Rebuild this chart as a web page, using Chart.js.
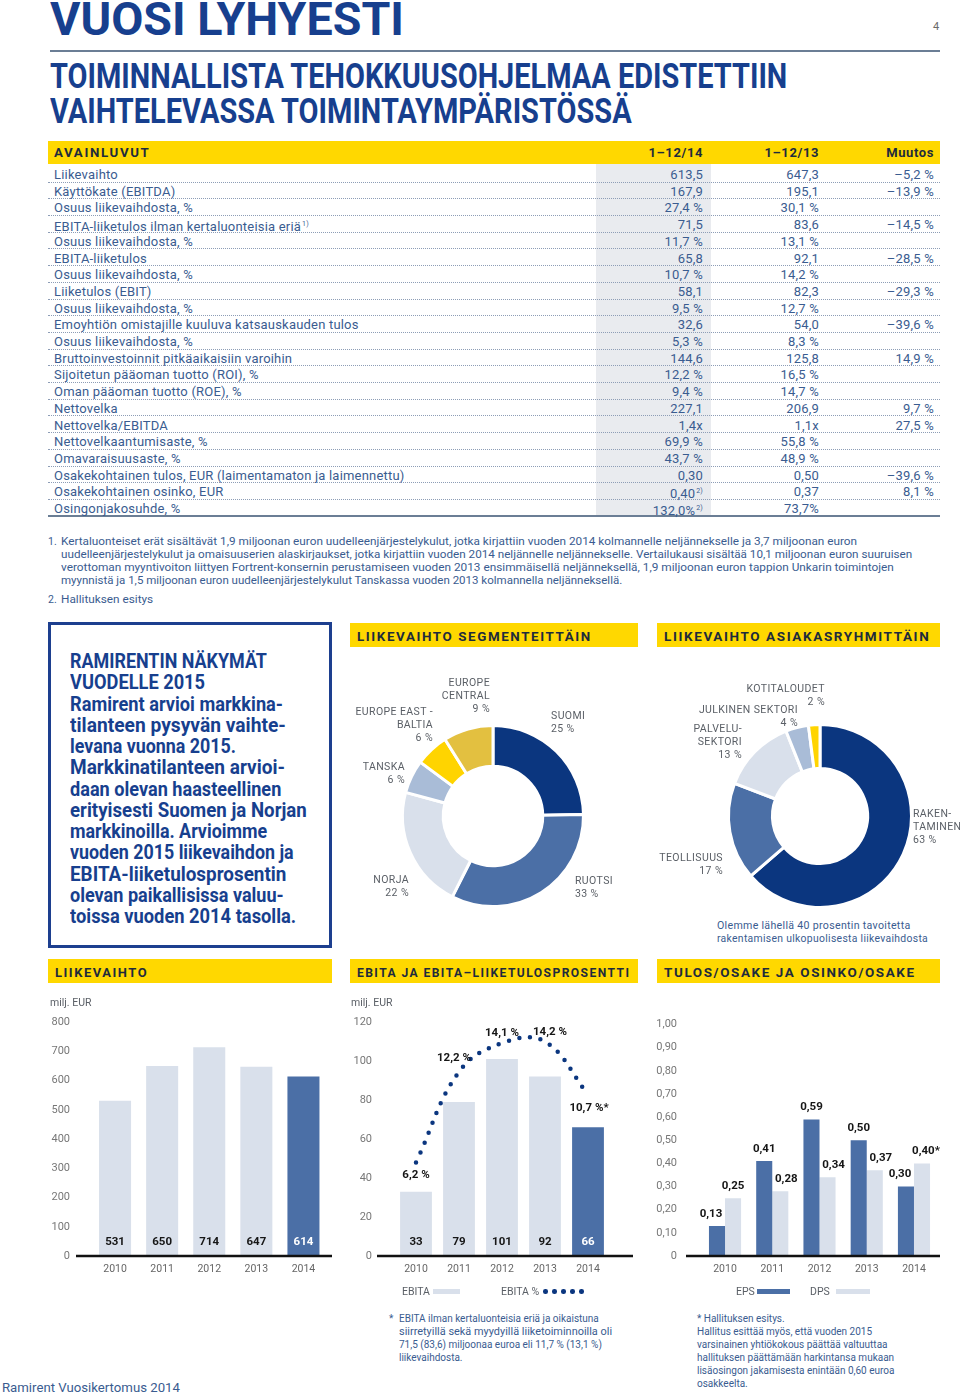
<!DOCTYPE html>
<html lang="fi">
<head>
<meta charset="utf-8">
<title>Vuosi lyhyesti</title>
<script src="https://cdn.jsdelivr.net/npm/chart.js@4.4.1/dist/chart.umd.min.js"></script>
<style>
  html, body { margin: 0; padding: 0; background: #fff; }
  body { position: relative; width: 960px; height: 1394px; overflow: hidden;
         font-family: Roboto, "Open Sans", sans-serif; color: #3a5c90; }
  .t { position: absolute; white-space: nowrap; transform-origin: 0 50%; }
  .box { position: absolute; }
  canvas { position: absolute; }
  .row { position: absolute; left: 48px; width: 892px; height: 16.7px; box-sizing: border-box;
         border-bottom: 1px dotted #8d9db6; }
  .row.last { border-bottom: 2px solid #6b7e95; }
  .row span { position: absolute; top: 1px; line-height: 15px; font-size: 13px; letter-spacing: 0.2px; white-space: nowrap; }
  sup { font-size: 7px; vertical-align: 5px; margin-left: 1px; }
</style>
</head>
<body>
<canvas id="segChart" width="200" height="200" style="left:393px; top:716px"></canvas>
<canvas id="custChart" width="202" height="202" style="left:719px; top:715px"></canvas>
<canvas id="revChart" width="300" height="300" style="left:40px; top:990px"></canvas>
<canvas id="ebitaChart" width="300" height="300" style="left:340px; top:990px"></canvas>
<canvas id="epsChart" width="310" height="300" style="left:650px; top:990px"></canvas>
<script>
// Värit
const NAVY = "#0b367f";
const MID = "#4b6fa6";
const LIGHT = "#d9e0eb";
const LIGHTBLUE = "#a9bcd7";
const YELLOW = "#ffd400";
const GOLD = "#e3c040";
const TITLE = "#173f8e";
const GRAY = "#5a5f66";

// Avainluvut
const rowLabels = [
  "Liikevaihto", "Käyttökate (EBITDA)", "Osuus liikevaihdosta, %",
  "EBITA-liiketulos ilman kertaluonteisia eriä", "Osuus liikevaihdosta, %",
  "EBITA-liiketulos", "Osuus liikevaihdosta, %", "Liiketulos (EBIT)",
  "Osuus liikevaihdosta, %", "Emoyhtiön omistajille kuuluva katsauskauden tulos",
  "Osuus liikevaihdosta, %", "Bruttoinvestoinnit pitkäaikaisiin varoihin",
  "Sijoitetun pääoman tuotto (ROI), %", "Oman pääoman tuotto (ROE), %",
  "Nettovelka", "Nettovelka/EBITDA", "Nettovelkaantumisaste, %",
  "Omavaraisuusaste, %", "Osakekohtainen tulos, EUR (laimentamaton ja laimennettu)",
  "Osakekohtainen osinko, EUR", "Osingonjakosuhde, %"
];
const values14 = ["613,5", "167,9", "27,4 %", "71,5", "11,7 %", "65,8", "10,7 %", "58,1",
  "9,5 %", "32,6", "5,3 %", "144,6", "12,2 %", "9,4 %", "227,1", "1,4x", "69,9 %",
  "43,7 %", "0,30", "0,40", "132,0%"];
const values13 = ["647,3", "195,1", "30,1 %", "83,6", "13,1 %", "92,1", "14,2 %", "82,3",
  "12,7 %", "54,0", "8,3 %", "125,8", "16,5 %", "14,7 %", "206,9", "1,1x", "55,8 %",
  "48,9 %", "0,50", "0,37", "73,7%"];
const changes = ["–5,2 %", "–13,9 %", "", "–14,5 %", "", "–28,5 %", "", "–29,3 %", "",
  "–39,6 %", "", "14,9 %", "", "", "9,7 %", "27,5 %", "", "", "–39,6 %", "8,1 %", ""];
const labelNotes = { 3: "1)" };
const value14Notes = { 19: "2)", 20: "2)" };

// Kaavioiden data
const years = ["2010", "2011", "2012", "2013", "2014"];
const revenue = [531, 650, 714, 647, 614];
const ebita = [33, 79, 101, 92, 66];
const ebitaPct = [6.2, 12.2, 14.1, 14.2, 10.7];
const ebitaPctNotes = ["", "", "", "", "*"];
const eps = [0.13, 0.41, 0.59, 0.50, 0.30];
const dps = [0.25, 0.28, 0.34, 0.37, 0.40];
const dpsNotes = ["", "", "", "", "*"];

const segmentNames = ["SUOMI", "RUOTSI", "NORJA", "TANSKA", "EUROPE EAST -\nBALTIA", "EUROPE\nCENTRAL"];
const segmentShares = [25, 33, 22, 6, 6, 9];
const customerNames = ["RAKEN-\nTAMINEN", "TEOLLISUUS", "PALVELU-\nSEKTORI", "JULKINEN SEKTORI", "KOTITALOUDET"];
const customerShares = [63, 17, 13, 4, 2];

// Tekstien sijainnit (tyyli, ei dataa)
const segColors = [NAVY, MID, LIGHT, LIGHTBLUE, YELLOW, GOLD];
const segLabelPos = [
  { x: 551, y: 715, a: "left" }, { x: 575, y: 880, a: "left" },
  { x: 409, y: 879, a: "right" }, { x: 405, y: 766, a: "right" },
  { x: 433, y: 711, a: "right" }, { x: 490, y: 682, a: "right" }
];
const custColors = [NAVY, MID, LIGHT, LIGHTBLUE, YELLOW];
const custLabelPos = [
  { x: 913, y: 813, a: "left" }, { x: 723, y: 857, a: "right" },
  { x: 742, y: 728, a: "right" }, { x: 798, y: 709, a: "right" },
  { x: 825, y: 688, a: "right" }
];
const pctLabelOffsets = [[0, 13], [-5, -14], [0, -10], [5, -10], [1, 14]];
const epsLabelDx = [-6, 0, 0, 0, -6];
const dpsLabelDx = [0, 6, 6, 6, 4];

const fi = (v, d) => v.toFixed(d).replace(".", ",");

// Apufunktiot
function addText(html, x, yc, o = {}) {
  const el = document.createElement("div");
  el.className = "t";
  const size = o.size || 12;
  const lh = o.lh || Math.round(size * 1.25);
  el.style.fontSize = size + "px";
  el.style.lineHeight = lh + "px";
  el.style.top = (yc - lh / 2) + "px";
  if (o.weight) el.style.fontWeight = o.weight;
  if (o.color) el.style.color = o.color;
  if (o.ls) el.style.letterSpacing = o.ls + "px";
  if (o.align === "right") {
    el.style.right = (960 - x) + "px";
    el.style.textAlign = "right";
    el.style.transformOrigin = "100% 50%";
  } else {
    el.style.left = x + "px";
  }
  if (o.w) el.dataset.w = o.w;
  el.innerHTML = html;
  document.body.appendChild(el);
  return el;
}

function addBox(x, y, w, h, css) {
  const el = document.createElement("div");
  el.className = "box";
  el.style.left = x + "px";
  el.style.top = y + "px";
  el.style.width = w + "px";
  el.style.height = h + "px";
  Object.assign(el.style, css);
  document.body.appendChild(el);
  return el;
}

function sectionBar(x, y, w, text, tw) {
  addBox(x, y, w, 24, { background: "#ffd800" });
  addText(text, x + 7, y + 12.5, { size: 13.5, lh: 16, weight: 700, ls: 1.6, color: "#1e2b3c", w: tw });
}

// Otsikot
addText("VUOSI LYHYESTI", 50, 19, { size: 46.5, lh: 48, weight: 700, color: TITLE, w: 354 });
addText("4", 933, 27, { size: 11, color: "#6a6a6a" });
addBox(50, 50, 890, 2, { background: "#6b7e95" });
addText("TOIMINNALLISTA TEHOKKUUSOHJELMAA EDISTETTIIN", 50, 77, { size: 35, lh: 36, weight: 700, color: TITLE, w: 737 });
addText("VAIHTELEVASSA TOIMINTAYMPÄRISTÖSSÄ", 50, 112, { size: 35, lh: 36, weight: 700, color: TITLE, w: 582 });

// Taulukko
addBox(48, 141, 892, 23, { background: "#ffd800" });
addText("AVAINLUVUT", 54, 153, { size: 13, weight: 700, ls: 1.6, color: "#1e2b3c", w: 96 });
addText("1–12/14", 703, 153, { size: 13, weight: 700, ls: 0.6, color: "#1e2b3c", align: "right" });
addText("1–12/13", 819, 153, { size: 13, weight: 700, ls: 0.6, color: "#1e2b3c", align: "right" });
addText("Muutos", 934, 153, { size: 13, weight: 700, ls: 0.6, color: "#1e2b3c", align: "right" });
addBox(596, 164, 115, 353, { background: "#e9ebef" });

rowLabels.forEach((label, i) => {
  const row = document.createElement("div");
  row.className = "row" + (i === rowLabels.length - 1 ? " last" : "");
  row.style.top = (166 + i * 16.7) + "px";
  const note = labelNotes[i] ? "<sup>" + labelNotes[i] + "</sup>" : "";
  const note14 = value14Notes[i] ? "<sup>" + value14Notes[i] + "</sup>" : "";
  row.innerHTML =
    '<span style="left:6px">' + label + note + "</span>" +
    '<span style="right:237px">' + values14[i] + note14 + "</span>" +
    '<span style="right:121px">' + values13[i] + "</span>" +
    '<span style="right:6px">' + changes[i] + "</span>";
  document.body.appendChild(row);
});

// Alaviitteet
const fn = { size: 10.5, lh: 13 };
addText("1.", 48, 541, fn);
addText("Kertaluonteiset erät sisältävät 1,9 miljoonan euron uudelleenjärjestelykulut, jotka kirjattiin vuoden 2014 kolmannelle neljännekselle ja 3,7 miljoonan euron", 61, 541, { ...fn, w: 796 });
addText("uudelleenjärjestelykulut ja omaisuuserien alaskirjaukset, jotka kirjattiin vuoden 2014 neljännelle neljännekselle. Vertailukausi sisältää 10,1 miljoonan euron suuruisen", 61, 554, { ...fn, w: 851 });
addText("verottoman myyntivoiton liittyen Fortrent-konsernin perustamiseen vuoden 2013 ensimmäisellä neljänneksellä, 1,9 miljoonan euron tappion Unkarin toimintojen", 61, 567, { ...fn, w: 833 });
addText("myynnistä ja 1,5 miljoonan euron uudelleenjärjestelykulut Tanskassa vuoden 2013 kolmannella neljänneksellä.", 61, 580, { ...fn, w: 561 });
addText("2.", 48, 599, fn);
addText("Hallituksen esitys", 61, 599, { ...fn, w: 92 });

// Näkymät-laatikko
addBox(48, 622, 284, 326, { border: "3px solid #1d3f8f", boxSizing: "border-box" });
const outlook = [
  "RAMIRENTIN NÄKYMÄT", "VUODELLE 2015", "Ramirent arvioi markkina-",
  "tilanteen pysyvän vaihte-", "levana vuonna 2015.", "Markkinatilanteen arvioi-",
  "daan olevan haasteellinen", "erityisesti Suomen ja Norjan", "markkinoilla. Arvioimme",
  "vuoden 2015 liikevaihdon ja", "EBITA-liiketulosprosentin", "olevan paikallisissa valuu-",
  "toissa vuoden 2014 tasolla."
];
const outlookW = [197, 135, 213, 216, 166, 215, 211, 237, 197, 224, 216, 214, 226];
outlook.forEach((line, i) => {
  addText(line, 70, 661 + i * 21.25, { size: 20, lh: 22, weight: 700, color: TITLE, w: outlookW[i] });
});

// Osioiden otsikot
sectionBar(350, 623, 288, "LIIKEVAIHTO SEGMENTEITTÄIN", 235);
sectionBar(657, 623, 283, "LIIKEVAIHTO ASIAKASRYHMITTÄIN", 266);
sectionBar(48, 959, 284, "LIIKEVAIHTO", 93);
sectionBar(350, 959, 288, "EBITA JA EBITA–LIIKETULOSPROSENTTI", 273);
sectionBar(657, 959, 283, "TULOS/OSAKE JA OSINKO/OSAKE", 252);

// Piirakoiden tekstit
function ringLabels(names, shares, pos) {
  names.forEach((name, i) => {
    const p = pos[i];
    addText(name.split("\n").join("<br>") + "<br>" + shares[i] + " %", p.x, p.y,
      { size: 10.5, lh: 13, ls: 0.4, color: GRAY, align: p.a });
  });
}
ringLabels(segmentNames, segmentShares, segLabelPos);
ringLabels(customerNames, customerShares, custLabelPos);
addText("Olemme lähellä 40 prosentin tavoitetta", 717, 925, { size: 10.5, lh: 13, ls: 0.3, w: 194 });
addText("rakentamisen ulkopuolisesta liikevaihdosta", 717, 938, { size: 10.5, lh: 13, ls: 0.3, w: 211 });

// Pylväskaavioiden tekstit
addText("milj. EUR", 50, 1002, { size: 10.5, color: GRAY });
addText("milj. EUR", 351, 1002, { size: 10.5, color: GRAY });

addText("EBITA", 402, 1291, { size: 10.5, color: GRAY });
addBox(433, 1289, 27, 5, { background: LIGHT });
addText("EBITA %", 501, 1291, { size: 10.5, color: GRAY });
for (let k = 0; k < 5; k++) {
  addBox(543 + k * 9, 1289, 4.5, 4.5, { background: NAVY, borderRadius: "50%" });
}
addText("EPS", 736, 1291, { size: 10.5, color: GRAY });
addBox(757, 1289, 33, 5, { background: MID });
addText("DPS", 810, 1291, { size: 10.5, color: GRAY });
addBox(836, 1289, 34, 5, { background: LIGHT });

const note = { size: 10, lh: 13 };
addText("*", 389, 1318, note);
addText("EBITA ilman kertaluonteisia eriä ja oikaistuna", 399, 1318, note);
addText("siirretyillä sekä myydyillä liiketoiminnoilla oli", 399, 1331, { ...note, w: 213 });
addText("71,5 (83,6) miljoonaa euroa eli 11,7 % (13,1 %)", 399, 1344, note);
addText("liikevaihdosta.", 399, 1357, note);
[
  "* Hallituksen esitys.", "Hallitus esittää myös, että vuoden 2015",
  "varsinainen yhtiökokous päättää valtuuttaa", "hallituksen päättämään harkintansa mukaan",
  "lisäosingon jakamisesta enintään 0,60 euroa", "osakkeelta."
].forEach((line, i) => addText(line, 697, 1318 + i * 13, note));

addText("Ramirent Vuosikertomus 2014", 2, 1388, { size: 12, w: 178 });

// Sovita tekstien leveydet
function fitAll() {
  document.querySelectorAll("[data-w]").forEach(el => {
    el.style.transform = "none";
    const w = el.offsetWidth;
    if (w > 0) el.style.transform = "scaleX(" + (+el.dataset.w / w) + ")";
  });
}
fitAll();
if (document.fonts) document.fonts.ready.then(fitAll);

// Chart.js
Chart.defaults.font.family = "Roboto, 'Open Sans', sans-serif";
Chart.defaults.animation = false;

const baseline = (l, r) => ({
  id: "baseline",
  afterDatasetsDraw(chart) {
    const { ctx, chartArea: a } = chart;
    const y = chart.scales.y.getPixelForValue(0);
    ctx.save();
    ctx.strokeStyle = "#111";
    ctx.lineWidth = 2.5;
    ctx.beginPath();
    ctx.moveTo(a.left - l, y);
    ctx.lineTo(a.right + r, y);
    ctx.stroke();
    ctx.restore();
  }
});

// Arvot pylväiden juureen
const baseLabels = (dsIndex, texts, colors) => ({
  id: "baseLabels",
  afterDatasetsDraw(chart) {
    const { ctx } = chart;
    const y0 = chart.scales.y.getPixelForValue(0);
    ctx.save();
    ctx.font = "700 11.5px Roboto, sans-serif";
    ctx.textAlign = "center";
    ctx.textBaseline = "middle";
    chart.getDatasetMeta(dsIndex).data.forEach((bar, i) => {
      ctx.fillStyle = colors[i];
      ctx.fillText(texts[i], bar.x, y0 - 14);
    });
    ctx.restore();
  }
});

// Arvot pylväiden yläpuolelle
const topLabels = (textSets, dxSets) => ({
  id: "topLabels",
  afterDatasetsDraw(chart) {
    const { ctx } = chart;
    ctx.save();
    ctx.font = "700 11.5px Roboto, sans-serif";
    ctx.textAlign = "center";
    ctx.textBaseline = "middle";
    ctx.fillStyle = "#161616";
    textSets.forEach((texts, d) => {
      chart.getDatasetMeta(d).data.forEach((bar, i) => {
        ctx.fillText(texts[i], bar.x + dxSets[d][i], bar.y - 12);
      });
    });
    ctx.restore();
  }
});

const pointLabels = (dsIndex, texts, offsets) => ({
  id: "pointLabels",
  afterDatasetsDraw(chart) {
    const { ctx } = chart;
    ctx.save();
    ctx.font = "700 11.5px Roboto, sans-serif";
    ctx.textAlign = "center";
    ctx.textBaseline = "middle";
    ctx.fillStyle = "#161616";
    chart.getDatasetMeta(dsIndex).data.forEach((pt, i) => {
      ctx.fillText(texts[i], pt.x + offsets[i][0], pt.y + offsets[i][1]);
    });
    ctx.restore();
  }
});

const noPlugins = { legend: { display: false }, tooltip: { enabled: false } };

function ring(id, labels, data, colors, cutout) {
  return new Chart(document.getElementById(id), {
    type: "doughnut",
    data: {
      labels: labels,
      datasets: [{ data: data, backgroundColor: colors, borderColor: "#fff", borderWidth: 3, hoverOffset: 0 }]
    },
    options: { responsive: false, cutout: cutout, layout: { padding: 8 }, plugins: noPlugins }
  });
}
ring("segChart", segmentNames, segmentShares, segColors, "55%");
ring("custChart", customerNames, customerShares, custColors, "52%");

function xAxis() {
  return {
    grid: { display: false, drawTicks: false },
    border: { display: false },
    ticks: { color: "#666", font: { size: 10.5 }, padding: 7 },
    afterFit: s => { s.height = 24; }
  };
}
function yAxis(max, step, width, pad, cb) {
  const ticks = { stepSize: step, color: "#777", font: { size: 11 }, padding: pad };
  if (cb) ticks.callback = cb;
  return {
    min: 0, max: max,
    grid: { display: false, drawTicks: false },
    border: { display: false },
    ticks: ticks,
    afterFit: s => { s.width = width; }
  };
}

// Sovita piirtoalueen ylä- ja alareuna sivun koordinaatteihin
function placeArea(chart, pad, canvasTop, top, bottom) {
  for (let k = 0; k < 4; k++) {
    const a = chart.chartArea;
    pad.top += (top - canvasTop) - a.top;
    pad.bottom += a.bottom - (bottom - canvasTop);
    chart.update();
  }
}

const barColors = years.map((y, i) => i === years.length - 1 ? MID : LIGHT);
const baseTextColors = years.map((y, i) => i === years.length - 1 ? "#fff" : "#161616");

// Liikevaihto
const revPad = { top: 30, right: 13, left: 0, bottom: 10 };
const revChart = new Chart(document.getElementById("revChart"), {
  type: "bar",
  data: {
    labels: years,
    datasets: [{ label: "Liikevaihto", data: revenue, backgroundColor: barColors,
      barPercentage: 0.68, categoryPercentage: 1 }]
  },
  options: {
    responsive: false,
    layout: { padding: revPad },
    scales: { x: xAxis(), y: yAxis(800, 100, 51.5, 21.5) },
    plugins: noPlugins
  },
  plugins: [baseline(15.5, 5), baseLabels(0, revenue.map(String), baseTextColors)]
});
placeArea(revChart, revPad, 990, 1022, 1256);

// EBITA ja EBITA-%
const ebitaPad = { top: 30, right: 30.5, left: 0, bottom: 10 };
const ebitaChart = new Chart(document.getElementById("ebitaChart"), {
  data: {
    labels: years,
    datasets: [
      { type: "line", label: "EBITA %", data: ebitaPct, yAxisID: "y1", order: 0,
        borderColor: NAVY, borderWidth: 4.5, borderDash: [0, 10.7], borderCapStyle: "round",
        pointRadius: 0, tension: 0.4, fill: false },
      { type: "bar", label: "EBITA", data: ebita, backgroundColor: barColors, order: 1,
        barPercentage: 0.74, categoryPercentage: 1 }
    ]
  },
  options: {
    responsive: false,
    layout: { padding: ebitaPad },
    scales: {
      x: xAxis(),
      y: yAxis(120, 20, 54.5, 22.5),
      y1: { display: false, min: 0, max: 15.5 }
    },
    plugins: noPlugins
  },
  plugins: [
    baseline(17.5, 23.5),
    baseLabels(1, ebita.map(String), baseTextColors),
    pointLabels(0, ebitaPct.map((v, i) => fi(v, 1) + " %" + ebitaPctNotes[i]), pctLabelOffsets)
  ]
});
placeArea(ebitaChart, ebitaPad, 990, 1022, 1256);

// Tulos/osake ja osinko/osake
const epsPad = { top: 30, right: 22.4, left: 0, bottom: 10 };
const epsChart = new Chart(document.getElementById("epsChart"), {
  type: "bar",
  data: {
    labels: years,
    datasets: [
      { label: "EPS", data: eps, backgroundColor: MID, barPercentage: 1, categoryPercentage: 0.68 },
      { label: "DPS", data: dps, backgroundColor: LIGHT, barPercentage: 1, categoryPercentage: 0.68 }
    ]
  },
  options: {
    responsive: false,
    layout: { padding: epsPad },
    scales: {
      x: xAxis(),
      y: yAxis(1, 0.1, 51.4, 24.4, v => v === 0 ? "0" : fi(v, 2))
    },
    plugins: noPlugins
  },
  plugins: [
    baseline(15.4, 2.4),
    topLabels([eps.map(v => fi(v, 2)), dps.map((v, i) => fi(v, 2) + dpsNotes[i])], [epsLabelDx, dpsLabelDx])
  ]
});
placeArea(epsChart, epsPad, 990, 1024.5, 1256);
</script>
</body>
</html>
